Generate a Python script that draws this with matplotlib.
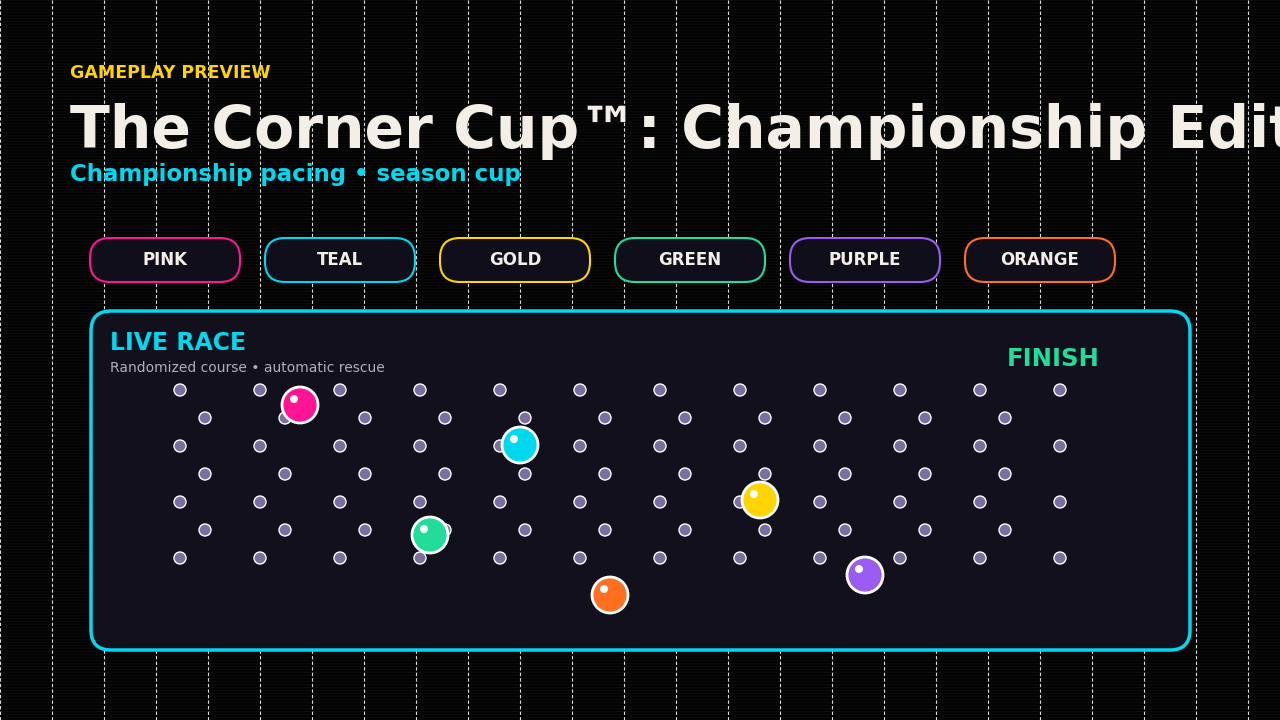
import matplotlib
matplotlib.use("Agg")
import matplotlib.pyplot as plt
from matplotlib.patches import FancyBboxPatch, Circle

plt.rcParams['font.family'] = ['DejaVu Sans']

teams = ["PINK", "TEAL", "GOLD", "GREEN", "PURPLE", "ORANGE"]
team_colors = ["#ff1493", "#00d8f0", "#ffd400", "#22dd99", "#9b5cf0", "#ff7020"]
ball_x = [300, 520, 760, 430, 865, 610]
ball_y = [405, 445, 500, 535, 575, 595]
pin_rows_y = [390, 418, 446, 474, 502, 530, 558]

fig = plt.figure(figsize=(12.8, 7.2), dpi=100)
fig.patch.set_facecolor("#030303")
ax = fig.add_axes([0, 0, 1, 1])
ax.set_xlim(0, 1280); ax.set_ylim(720, 0); ax.axis("off")

for y in range(0, 720, 3):
    ax.axhline(y, color="#0c0c0c", lw=0.6, zorder=0)
for x in range(0, 1280, 52):
    ax.axvline(x, color="#dddddd", lw=0.8, ls=(0, (3, 2)), zorder=1)

ax.text(70, 73, "GAMEPLAY PREVIEW", color="#ffd400", fontsize=12.5, fontweight="bold", va="center")
ax.text(70, 132, "The Corner Cup™: Championship Edition", color="#f3efe6", fontsize=42, fontweight="bold", va="center", clip_on=True)
ax.text(70, 175, "Championship pacing • season cup", color="#00d8f0", fontsize=16.5, fontweight="bold", va="center")

for i, (t, c) in enumerate(zip(teams, team_colors)):
    cx = 165 + 175 * i
    ax.add_patch(FancyBboxPatch((cx - 75 + 20, 238 + 20), 150 - 40, 44 - 40,
                                boxstyle="round,pad=20", fc="#0f0e1a", ec=c, lw=1.5, zorder=3))
    ax.text(cx, 260, t, color="#f3efe6", fontsize=12, fontweight="bold", ha="center", va="center", zorder=4)

ax.add_patch(FancyBboxPatch((91 + 20, 311 + 20), 1099 - 40, 339 - 40,
                            boxstyle="round,pad=20", fc="#11101c", ec="#00d8f0", lw=2.5, zorder=3))
ax.text(110, 343, "LIVE RACE", color="#00d8f0", fontsize=17, fontweight="bold", va="center", zorder=4)
ax.text(110, 368, "Randomized course • automatic rescue", color="#b0adbd", fontsize=10, va="center", zorder=4)
ax.text(1100, 359, "FINISH", color="#22dd99", fontsize=17.5, fontweight="bold", va="center", ha="right", zorder=4)

for r, y in enumerate(pin_rows_y):
    xs = range(180, 1061, 80) if r % 2 == 0 else range(205, 1006, 80)
    for x in xs:
        ax.add_patch(Circle((x, y), 6, fc="#7a6fa0", ec="white", lw=1, zorder=5))

for x, y, c in zip(ball_x, ball_y, team_colors):
    ax.add_patch(Circle((x, y), 18, fc=c, ec="white", lw=2, zorder=6))
    ax.add_patch(Circle((x - 6, y - 6), 4, fc="white", ec="none", zorder=7))

fig.savefig("out.png", dpi=100, facecolor=fig.get_facecolor())
